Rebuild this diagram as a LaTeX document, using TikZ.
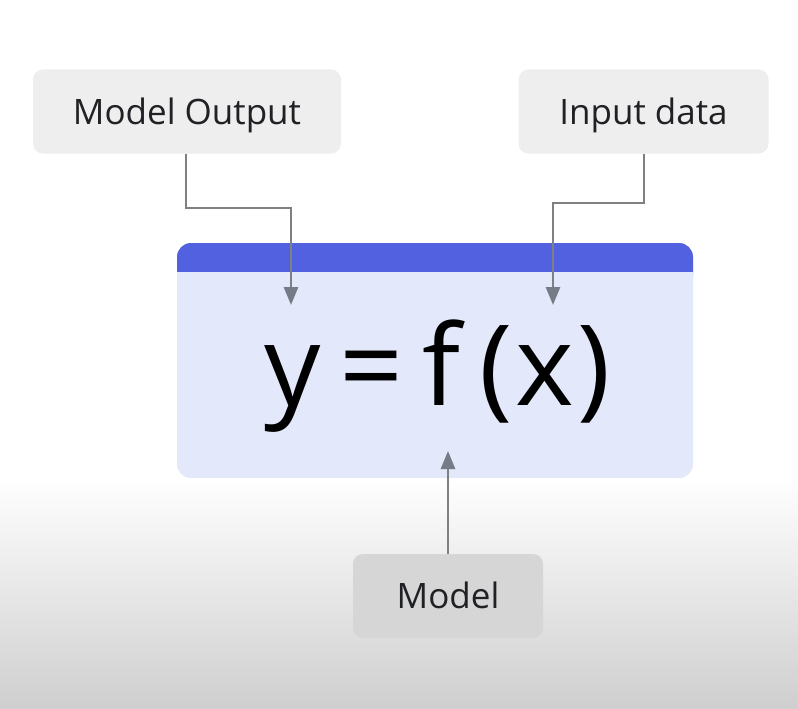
\documentclass[tikz,border=0pt]{standalone}
\usepackage{fontspec}
\setmainfont{Open Sans}
\usetikzlibrary{arrows.meta}
\definecolor{bandblue}{HTML}{5161E0}
\definecolor{boxfill}{HTML}{E3E8FA}
\definecolor{lblfill}{HTML}{EEEEEF}
\definecolor{modfill}{HTML}{D6D6D7}
\definecolor{linegray}{HTML}{808080}
\definecolor{tipgray}{HTML}{767B88}
\definecolor{txt}{HTML}{202124}
\begin{document}
\begin{tikzpicture}[x=1pt,y=-1pt,
  lbl/.style={rounded corners=10pt,inner sep=0pt,text=txt,font=\fontsize{35}{40}\selectfont,text height=25pt,text depth=0pt},
  conn/.style={draw=linegray,line width=2.8pt,-{Triangle[length=18pt,width=14pt,color=tipgray]}}]
\useasboundingbox (0,0) rectangle (798,709);
\fill[white] (0,0) rectangle (798,709);
\shade[top color=white,bottom color=black!19] (0,477) rectangle (798,709);
% main box
\fill[boxfill,rounded corners=14pt] (177,243) rectangle (693,478);
\fill[bandblue,rounded corners=14pt] (177,243) rectangle (693,290);
\fill[boxfill] (177,272) rectangle (693,292);
\node[anchor=base,text=black,font=\fontsize{112}{120}\selectfont,inner sep=0pt] (fx) at (438,405) {y\,=\,f\,(\kern0.03em x\kern0.03em)};
% label boxes
\node[lbl,fill=lblfill,minimum width=308pt,minimum height=84pt] (out) at (187,111.5) {Model Output};
\node[lbl,fill=lblfill,minimum width=250pt,minimum height=84pt] (inp) at (643.5,111.5) {Input data};
\node[lbl,fill=modfill,minimum width=190pt,minimum height=84pt] (mod) at (448,596) {Model};
\coordinate (outtip) at (291,305);
\coordinate (inptip) at (553,305);
\coordinate (modtip) at (448,451);
\draw[conn] (out.south -| 186,0) |- (291,208) -- (outtip);
\draw[conn] (inp.south -| 644,0) |- (553,203) -- (inptip);
\draw[conn] (mod.north) -- (modtip);
\end{tikzpicture}
\end{document}
